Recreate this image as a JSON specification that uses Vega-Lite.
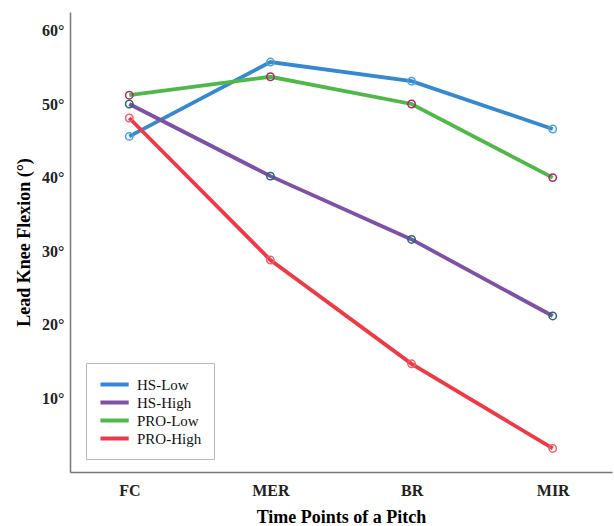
{
  "$schema": "https://vega.github.io/schema/vega-lite/v6.json",
  "width": 542,
  "height": 460,
  "autosize": {"type": "none"},
  "padding": {"left": 70, "top": 12, "right": 2, "bottom": 54},
  "background": "white",
  "config": {
    "view": {"stroke": null},
    "font": "Liberation Serif"
  },
  "data": {
    "values": [
      {"time": "FC", "group": "HS-Low", "angle": 45.6},
      {"time": "MER", "group": "HS-Low", "angle": 55.7},
      {"time": "BR", "group": "HS-Low", "angle": 53.1},
      {"time": "MIR", "group": "HS-Low", "angle": 46.6},
      {"time": "FC", "group": "HS-High", "angle": 50.0},
      {"time": "MER", "group": "HS-High", "angle": 40.2},
      {"time": "BR", "group": "HS-High", "angle": 31.6},
      {"time": "MIR", "group": "HS-High", "angle": 21.2},
      {"time": "FC", "group": "PRO-Low", "angle": 51.2},
      {"time": "MER", "group": "PRO-Low", "angle": 53.7},
      {"time": "BR", "group": "PRO-Low", "angle": 50.0},
      {"time": "MIR", "group": "PRO-Low", "angle": 40.0},
      {"time": "FC", "group": "PRO-High", "angle": 48.1},
      {"time": "MER", "group": "PRO-High", "angle": 28.8},
      {"time": "BR", "group": "PRO-High", "angle": 14.7},
      {"time": "MIR", "group": "PRO-High", "angle": 3.2}
    ]
  },
  "encoding": {
    "x": {
      "field": "time",
      "type": "ordinal",
      "sort": ["FC", "MER", "BR", "MIR"],
      "scale": {"type": "point", "padding": 0.42},
      "axis": {
        "title": "Time Points of a Pitch",
        "titleFont": "Liberation Serif",
        "titleFontSize": 18,
        "titleFontWeight": "bold",
        "titleColor": "#000",
        "titlePadding": 10,
        "labelFont": "Liberation Serif",
        "labelFontSize": 16,
        "labelFontWeight": "bold",
        "labelColor": "#222",
        "labelAngle": 0,
        "labelPadding": 10,
        "ticks": false,
        "domainColor": "#777",
        "domainWidth": 1.5,
        "grid": false
      }
    },
    "y": {
      "field": "angle",
      "type": "quantitative",
      "scale": {"domain": [0, 62.5], "nice": false, "zero": false},
      "axis": {
        "title": "Lead Knee Flexion (°)",
        "titleFont": "Liberation Serif",
        "titleFontSize": 18,
        "titleFontWeight": "bold",
        "titleColor": "#000",
        "titlePadding": 8,
        "values": [10, 20, 30, 40, 50, 60],
        "labelExpr": "datum.value + '°'",
        "labelFont": "Liberation Serif",
        "labelFontSize": 16,
        "labelFontWeight": "bold",
        "labelColor": "#222",
        "labelPadding": 6,
        "ticks": false,
        "domainColor": "#777",
        "domainWidth": 1.5,
        "grid": false
      }
    }
  },
  "layer": [
    {
      "mark": {"type": "line", "strokeWidth": 3.8},
      "encoding": {
        "color": {
          "field": "group",
          "type": "nominal",
          "sort": ["HS-Low", "HS-High", "PRO-Low", "PRO-High"],
          "scale": {
            "domain": ["HS-Low", "HS-High", "PRO-Low", "PRO-High"],
            "range": ["#3589D0", "#7E50A6", "#4FB848", "#EE3A47"]
          },
          "legend": {
            "title": null,
            "orient": "none",
            "legendX": 16,
            "legendY": 351,
            "direction": "vertical",
            "strokeColor": "#bbb",
            "fillColor": "white",
            "padding": 12,
            "symbolType": "M-1,0H3",
            "symbolStrokeWidth": 4,
            "symbolSize": 200,
            "labelFont": "Liberation Serif",
            "labelFontSize": 15,
            "labelColor": "#111",
            "rowPadding": 0,
            "labelOffset": 20
          }
        }
      }
    },
    {
      "mark": {"type": "point", "filled": false, "size": 55, "strokeWidth": 1.5, "opacity": 1},
      "encoding": {
        "stroke": {
          "field": "group",
          "type": "nominal",
          "scale": {
            "domain": ["HS-Low", "HS-High", "PRO-Low", "PRO-High"],
            "range": ["#4AA3E0", "#1E6E6A", "#B0266A", "#F0606A"]
          },
          "legend": null
        }
      }
    }
  ]
}
